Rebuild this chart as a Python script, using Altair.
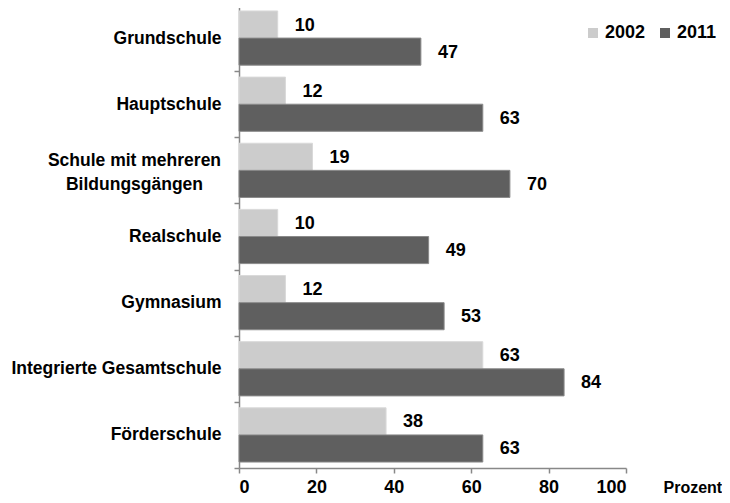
import altair as alt
import pandas as pd

categories = ["Grundschule", "Hauptschule", "Schule mit mehreren Bildungsgängen",
              "Realschule", "Gymnasium", "Integrierte Gesamtschule", "Förderschule"]
values_2002 = [10, 12, 19, 10, 12, 63, 38]
values_2011 = [47, 63, 70, 49, 53, 84, 63]
series = ["2002", "2011"]
x_ticks = [0, 20, 40, 60, 80, 100]

rows = []
for c, a, b in zip(categories, values_2002, values_2011):
    rows.append({"Schulart": c, "Jahr": series[0], "Wert": a})
    rows.append({"Schulart": c, "Jahr": series[1], "Wert": b})
df = pd.DataFrame(rows)

FONT = "Liberation Sans"
multi = "Schule mit mehreren Bildungsgängen"
test = f"datum.value == '{multi}'"

y_enc = alt.Y(
    "Schulart:N", sort=categories, title=None,
    scale=alt.Scale(range=[-3, 460], paddingInner=0, paddingOuter=0),
    axis=alt.Axis(
        tickBand="extent", tickSize=5, tickColor="#888888", domainColor="#888888",
        domainWidth=1.5, tickWidth=1.5,
        labelFont=FONT, labelFontSize=17.5, labelFontWeight="bold", labelColor="#000000",
        labelLineHeight=24, labelLimit=400,
        labelPadding={"condition": {"test": test, "value": 100}, "value": 13},
        labelAlign={"condition": {"test": test, "value": "center"}, "value": "right"},
        labelOffset={"condition": {"test": test, "value": -10}, "value": 0},
        labelExpr=f"{test} ? ['Schule mit mehreren', 'Bildungsgängen'] : datum.label",
    ),
)

x_enc = alt.X(
    "Wert:Q", scale=alt.Scale(domain=[0, 100], nice=False),
    axis=alt.Axis(
        values=x_ticks, grid=False, tickSize=5, tickColor="#888888", domainColor="#888888",
        domainWidth=1.5, tickWidth=1.5,
        labelFont=FONT, labelFontSize=18, labelFontWeight="bold", labelColor="#000000",
        labelBaseline="alphabetic", labelPadding=19,
        title="Prozent", titleFont=FONT, titleFontSize=16, titleFontWeight="bold",
        titleColor="#000000", titleX=424, titleY=24, titleAlign="left",
        titleBaseline="alphabetic", titleAnchor="start",
    ),
)

yoff = alt.YOffset("Jahr:N", sort=series, scale=alt.Scale(paddingOuter=0.22, paddingInner=0))

base = alt.Chart(df).encode(y=y_enc, yOffset=yoff)

bars = base.mark_bar(strokeWidth=1).encode(
    x=x_enc,
    color=alt.Color(
        "Jahr:N", sort=series,
        scale=alt.Scale(domain=series, range=["#cccccc", "#5f5f5f"]),
        legend=alt.Legend(
            title=None, orient="none", direction="horizontal", legendX=345, legendY=16,
            symbolType="square", symbolSize=100, symbolStrokeWidth=0,
            labelFont=FONT, labelFontSize=18, labelFontWeight="bold", labelColor="#000000",
            labelOffset=3, columnPadding=10, padding=0,
        ),
    ),
    stroke=alt.Stroke("Jahr:N", scale=alt.Scale(domain=series, range=["#d9d9d9", "#8a8a8a"]), legend=None),
)

labels = base.mark_text(
    align="left", baseline="middle", dx=17, dy=1,
    font=FONT, fontSize=18, fontWeight="bold", color="#000000",
).encode(x="Wert:Q", text="Wert:Q")

chart = (bars + labels).properties(
    width=387, height=460,
    autosize=alt.AutoSizeParams(type="none"),
    padding={"left": 231, "top": 0, "right": 96, "bottom": 27},
    background="#ffffff",
).configure_view(stroke=None)

chart.save("out.html", embed_options={"renderer": "svg", "actions": False})
